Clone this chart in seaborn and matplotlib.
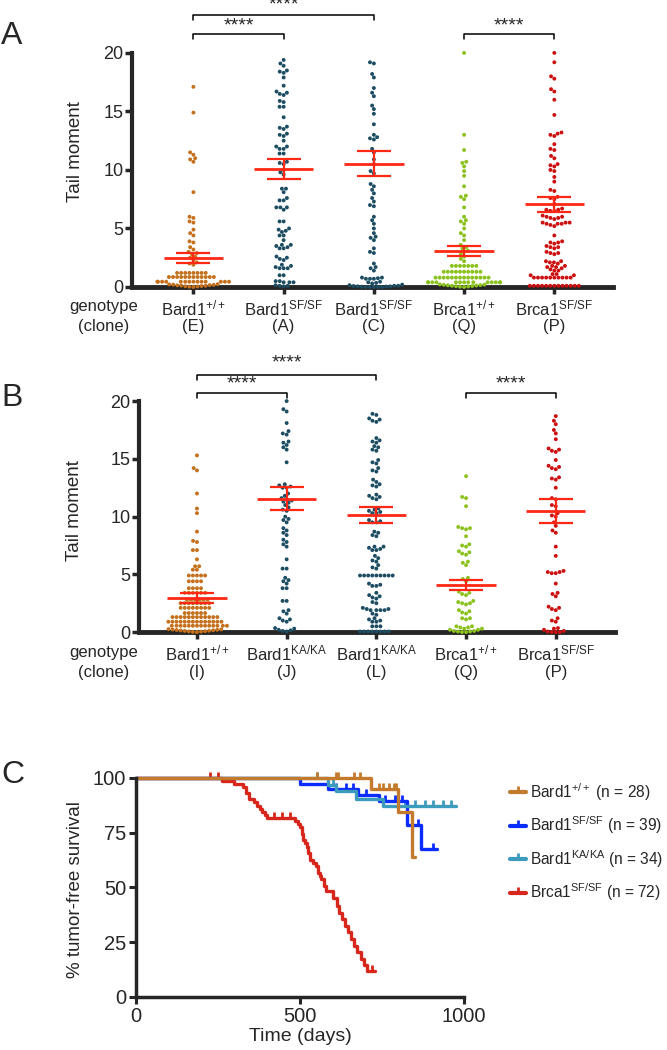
import numpy as np
import pandas as pd
import matplotlib
matplotlib.use("Agg")
import matplotlib.pyplot as plt
from matplotlib.lines import Line2D
import seaborn as sns

# ---------------- panel A data (tail moment per clone) ----------------
clones_a = ["E", "A", "C", "Q", "P"]
genotypes_a = ["Bard1$^{+/+}$", "Bard1$^{SF/SF}$", "Bard1$^{SF/SF}$", "Brca1$^{+/+}$", "Brca1$^{SF/SF}$"]
tail_a_E = [17.1, 14.9, 11.5, 11.3, 11.0, 10.9, 10.7, 8.1, 6.0, 5.9, 5.6, 5.5, 4.9, 4.6, 4.4, 3.9, 3.8,
            3.4, 3.2, 3.0, 2.9, 2.8, 2.6, 2.5, 2.3, 2.1, 2.0, 1.9,
            1.2, 1.2, 1.2, 1.2, 1.2, 1.2, 1.2, 1.2,
            0.85, 0.85, 0.85, 0.85, 0.85, 0.85, 0.85, 0.85, 0.85, 0.85, 0.85, 0.85,
            0.45, 0.45, 0.45, 0.45, 0.45, 0.45, 0.45, 0.45, 0.45, 0.45, 0.45, 0.45, 0.45, 0.45,
            0.24, 0.22, 0.2, 0.18, 0.16, 0.14, 0.12, 0.1, 0.08, 0.06, 0.04, 0.02, 0.0]
tail_a_A = [19.4, 19.1, 18.9, 18.5, 18.4, 18.3, 17.9, 17.2, 16.7, 16.6, 16.5, 16.4, 15.9, 15.8, 15.4, 15.4,
            14.5, 13.7, 13.6, 13.5, 13.1, 13.0, 12.9, 12.5, 12.0, 12.0, 11.8, 11.8, 11.4, 11.4, 10.7, 10.6,
            10.5, 10.0, 9.8, 9.6, 8.4, 8.4, 8.1, 7.6, 7.4, 7.4, 6.8, 6.8, 6.8, 6.6, 5.6, 5.6, 5.0, 4.9,
            4.8, 4.7, 4.4, 4.4, 4.0, 3.6, 3.6, 3.5, 3.4, 3.3, 3.3, 2.6, 2.5, 2.4, 2.3, 1.9, 1.8, 1.7,
            1.6, 1.6, 1.6, 1.0, 1.0, 0.5, 0.5, 0.4, 0.4, 0.4, 0.15, 0.1, 0.1, 0.05]
tail_a_C = [19.2, 19.1, 18.2, 17.9, 17.0, 16.6, 16.3, 15.5, 15.2, 14.8, 13.9, 13.0, 12.8, 12.7, 12.6,
            11.8, 11.5, 10.9, 10.5, 9.9, 9.7, 8.8, 8.6, 8.3, 8.0, 7.6, 7.3, 7.0, 6.9, 6.0, 5.7, 5.4,
            5.0, 4.6, 4.3, 4.2, 4.0, 3.3, 3.0, 2.9, 2.0, 1.7, 1.6, 1.4, 0.8, 0.8, 0.75, 0.7, 0.7, 0.7,
            0.45, 0.4, 0.35, 0.3, 0.2, 0.15, 0.1, 0.1, 0.08, 0.05, 0.05, 0.03, 0.02, 0.0, 0.0, 0.0, 0.0, 0.0]
tail_a_Q = [20.0, 13.0, 11.7, 10.7, 10.6, 10.3, 9.9, 9.5, 8.6, 7.8, 7.7, 7.5, 6.8, 6.0, 5.7, 5.6, 5.4,
            5.0, 4.6, 4.4, 4.0, 3.6, 3.4, 3.3, 3.1, 3.0, 2.8, 2.6, 2.4, 2.2,
            1.8, 1.8, 1.8, 1.8, 1.8, 1.8, 1.8,
            1.3, 1.3, 1.3, 1.3, 1.3, 1.3, 1.3, 1.3, 1.3, 1.3,
            0.8, 0.8, 0.8, 0.8, 0.8, 0.8, 0.8, 0.8, 0.8, 0.8, 0.8, 0.8, 0.8, 0.8,
            0.4, 0.4, 0.4, 0.4, 0.4, 0.4, 0.4, 0.4, 0.4, 0.4, 0.4, 0.4, 0.4, 0.4,
            0.22, 0.2, 0.18, 0.16, 0.14, 0.12, 0.1, 0.08, 0.06, 0.04, 0.02, 0.0]
tail_a_P = [20.0, 19.2, 18.0, 17.8, 16.9, 16.7, 16.0, 14.7, 13.2, 13.1, 13.0, 12.9, 12.2, 11.8, 11.7,
            11.2, 11.0, 10.5, 10.4, 10.3, 10.0, 9.9, 9.4, 9.0, 8.3, 8.2, 7.7, 7.6, 7.5, 7.1, 6.7, 6.6,
            6.6, 6.5, 6.5, 6.1, 6.0, 6.0, 5.9, 5.9, 5.8, 5.5, 5.5, 5.5, 5.4, 5.4, 5.4, 5.3, 5.2, 4.4,
            3.9, 3.8, 3.8, 3.7, 3.5, 3.4, 3.4, 3.3, 3.0, 2.9, 2.9, 2.8, 2.2, 2.2, 2.1, 2.1, 2.0, 1.8,
            1.8, 1.7, 1.7, 1.6, 1.5, 1.4, 1.4, 1.1, 1.1, 1.0, 1.0,
            0.8, 0.8, 0.8, 0.8, 0.8, 0.8, 0.8, 0.8, 0.8, 0.8,
            0.1, 0.1, 0.1, 0.1, 0.1, 0.1, 0.1, 0.1, 0.1, 0.1, 0.1, 0.1, 0.1]
mean_a = [2.45, 10.05, 10.55, 3.1, 7.05]
sem_a = [0.43, 0.85, 1.05, 0.43, 0.65]

# ---------------- panel B data ----------------
clones_b = ["I", "J", "L", "Q", "P"]
genotypes_b = ["Bard1$^{+/+}$", "Bard1$^{KA/KA}$", "Bard1$^{KA/KA}$", "Brca1$^{+/+}$", "Brca1$^{SF/SF}$"]
tail_b_I = [15.3, 14.2, 14.0, 12.0, 10.7, 10.3, 8.7, 7.9, 7.8, 7.1, 7.1, 6.3, 5.7, 5.7, 5.4, 5.4,
            4.9, 4.9, 4.9, 4.9, 4.9, 4.4, 4.4, 4.4, 4.4, 3.8, 3.8, 3.8, 3.8,
            3.4, 3.4, 3.4, 3.4, 3.4, 3.4, 2.8, 2.8, 2.8, 2.8, 2.8, 2.8,
            2.5, 2.5, 2.5, 2.5, 2.5, 2.5, 2.5, 2.5, 2.1, 2.1, 2.1, 2.1, 2.1, 2.1, 2.1, 2.1,
            1.65, 1.65, 1.65, 1.65, 1.65, 1.65,
            1.3, 1.3, 1.3, 1.3, 1.3, 1.3, 1.3, 1.3, 1.3, 1.3, 1.3, 1.3,
            0.9, 0.9, 0.9, 0.9, 0.9, 0.9, 0.9, 0.9, 0.9, 0.9, 0.9, 0.9, 0.9, 0.9,
            0.55, 0.55, 0.55, 0.55, 0.55, 0.55, 0.55, 0.55, 0.55, 0.55, 0.55, 0.55, 0.55, 0.55,
            0.26, 0.24, 0.22, 0.2, 0.18, 0.16, 0.14, 0.12, 0.1, 0.08, 0.06, 0.04, 0.02, 0.0]
tail_b_J = [20.0, 19.3, 19.1, 18.1, 17.4, 17.2, 17.1, 16.5, 16.4, 16.2, 16.0, 15.8, 14.7, 12.8, 12.7,
            12.6, 12.5, 12.5, 12.0, 11.8, 11.6, 11.5, 11.4, 11.3, 11.2, 11.0, 10.8, 10.6, 10.5, 10.0,
            9.8, 9.7, 9.5, 9.0, 8.8, 8.6, 8.4, 8.0, 7.8, 7.6, 7.4, 6.3, 5.5, 5.5, 4.7, 4.5, 4.4, 4.2,
            3.8, 3.8, 2.7, 2.7, 1.9, 1.8, 1.6, 1.2, 1.1, 1.0, 0.9, 0.35, 0.3, 0.2, 0.15, 0.1, 0.05]
tail_b_L = [18.9, 18.8, 18.5, 18.4, 18.3, 18.2, 16.8, 16.6, 16.5, 16.4, 16.1, 16.0, 15.8, 15.7, 14.9,
            14.7, 14.6, 14.2, 14.0, 13.9, 13.2, 13.0, 12.8, 12.7, 12.6, 11.9, 11.8, 11.7, 11.6, 11.5,
            10.7, 10.6, 10.5, 10.4, 10.3, 10.3, 9.7, 9.6, 9.5, 9.5, 8.7, 8.6, 8.4, 8.3, 7.4, 7.4, 7.3,
            7.2, 7.1, 7.1, 6.6, 6.4, 6.2, 6.1, 5.8, 5.6, 5.5,
            4.9, 4.9, 4.9, 4.9, 4.9, 4.9, 4.9, 4.9, 4.9,
            4.2, 4.1, 4.0, 4.0, 3.4, 3.2, 3.1, 3.0, 2.9, 2.6, 2.5, 2.1, 2.0, 2.0, 1.9, 1.9, 1.9, 1.9,
            1.6, 1.5, 1.2, 1.1, 1.0, 0.9, 0.9, 0.5, 0.5, 0.5,
            0.05, 0.05, 0.05, 0.05, 0.05, 0.05, 0.05, 0.05]
tail_b_Q = [13.5, 11.7, 11.6, 10.9, 9.1, 9.0, 9.0, 8.9, 8.3, 7.6, 7.5, 7.4, 7.0, 6.9, 6.8, 6.7, 6.1,
            6.0, 5.8, 4.7, 4.6, 4.4, 3.5, 3.4, 3.3, 3.2, 2.7, 2.6, 2.5, 2.5, 2.4, 1.9, 1.8, 1.7, 1.6,
            1.2, 1.2, 1.1, 0.5, 0.5, 0.4, 0.4, 0.3, 0.3, 0.2, 0.2, 0.1, 0.1, 0.05, 0.05, 0.0, 0.0]
tail_b_P = [18.7, 18.3, 18.0, 17.5, 17.2, 16.7, 15.9, 15.8, 15.7, 15.6, 14.9, 14.4, 14.3, 14.2, 14.1,
            13.4, 13.3, 13.2, 12.5, 11.6, 11.5, 11.0, 10.9, 10.3, 10.1, 10.0, 9.5, 9.2, 8.8, 8.6, 7.4,
            6.6, 5.3, 5.2, 5.2, 5.1, 5.1, 4.2, 3.4, 3.3, 3.1, 2.2, 2.1, 2.0, 1.9, 1.2, 1.0, 0.9, 0.35,
            0.3, 0.2, 0.1, 0.05, 0.0, 0.0, 0.0]
mean_b = [2.95, 11.55, 10.12, 4.1, 10.5]
sem_b = [0.43, 1.0, 0.68, 0.45, 1.05]

# ---------------- panel C data (Kaplan-Meier, tumor-free survival) ----------------
km_labels = ["Bard1$^{+/+}$ (n = 28)", "Bard1$^{SF/SF}$ (n = 39)",
             "Bard1$^{KA/KA}$ (n = 34)", "Brca1$^{SF/SF}$ (n = 72)"]
km_bard_wt_t = [0, 715, 799, 842, 851]
km_bard_wt_s = [100, 95, 84.5, 64, 64]
km_bard_sf_t = [0, 501, 585, 676, 741, 825, 870, 916]
km_bard_sf_s = [100, 97.4, 94.8, 92.2, 89.6, 78.4, 67.7, 67.7]
km_bard_ka_t = [0, 585, 611, 670, 754, 974]
km_bard_ka_s = [100, 97, 94, 90.5, 87, 87]
km_brca_sf_t = [0, 262, 300, 325, 335, 345, 358, 370, 378, 385, 392, 400, 485, 495, 500, 505, 510,
                515, 520, 525, 530, 540, 548, 555, 560, 565, 572, 580, 600, 612, 620, 628, 636, 645,
                655, 665, 675, 685, 695, 705, 728]
km_brca_sf_s = [100, 98.6, 97.2, 95.8, 93, 90.2, 88.8, 87.4, 86, 84.6, 83.2, 81.8, 80.4, 78.9, 77.4,
                74.5, 71.6, 70.1, 68.6, 65.7, 62.7, 61.2, 59.7, 56.7, 55.2, 53.7, 50.7, 48.5, 45,
                41.5, 38.5, 35.5, 32.5, 29.5, 26.5, 23.5, 20.5, 17.5, 14.5, 12, 12]
cens_bard_wt_t = [553, 611, 617, 663, 683, 740, 754, 770, 785, 793]
cens_bard_wt_s = [100, 100, 100, 100, 100, 95, 95, 95, 95, 95]
cens_bard_sf_t = [610, 640, 660, 700, 760, 790, 810, 860, 905]
cens_bard_sf_s = [94.8, 94.8, 94.8, 92.2, 89.6, 89.6, 89.6, 78.4, 67.7]
cens_bard_ka_t = [553, 600, 819, 850, 880, 905, 935, 960]
cens_bard_ka_s = [100, 97, 87, 87, 87, 87, 87, 87]
cens_brca_sf_t = [225, 250, 420, 445, 470, 720]
cens_brca_sf_s = [100, 100, 81.8, 81.8, 81.8, 12]

col_wt = "#c4701c"
col_mut = "#1d4d62"
col_green = "#8cc21e"
col_red = "#cc1010"
col_mean = "#ff2814"
km_colors = ["#c47a2c", "#0b2cff", "#3b9bbd", "#d7261b"]

sns.set_style("ticks")
plt.rcParams["font.family"] = ["Liberation Sans", "DejaVu Sans"]
plt.rcParams["mathtext.fontset"] = "custom"
plt.rcParams["mathtext.rm"] = "Liberation Sans"
plt.rcParams["mathtext.it"] = "Liberation Sans"
plt.rcParams["mathtext.default"] = "regular"

fig = plt.figure(figsize=(6.67, 10.5), dpi=100)


def swarm_panel(ax, clones, values, colors, means, sems, genos, letters_y):
    df = pd.concat([pd.DataFrame({"clone": c, "tail": v}) for c, v in zip(clones, values)])
    sns.swarmplot(data=df, x="clone", y="tail", hue="clone", order=clones, palette=colors,
                  size=2.8, legend=False, ax=ax, warn_thresh=1.0, zorder=3)
    for coll in ax.collections:
        coll.set_clip_on(False)
    pos = np.arange(len(clones))
    ax.hlines(means, pos - 0.33, pos + 0.33, color=col_mean, lw=2, zorder=5)
    ax.errorbar(pos, means, yerr=sems, fmt="none", ecolor=col_mean, elinewidth=1.6,
                capsize=12, capthick=1.6, zorder=5)
    ax.set_ylim(0, 20)
    ax.set_yticks([0, 5, 10, 15, 20])
    ax.set_ylabel("Tail moment", fontsize=13.5)
    ax.set_xlabel("")
    ax.set_xticks(pos)
    ax.set_xticklabels(genos, fontsize=12)
    for i, c in enumerate(clones):
        ax.text(i, letters_y, "(%s)" % c, transform=ax.get_xaxis_transform(),
                ha="center", va="center", fontsize=12)
    sns.despine(ax=ax)
    ax.spines["left"].set_linewidth(3)
    ax.spines["bottom"].set_linewidth(3.5)
    ax.tick_params(axis="y", length=5, width=2.5, labelsize=13, pad=1)
    ax.tick_params(axis="x", length=5, width=2.5, pad=3)


def bracket(ax, x0, x1, y, leg, star_y):
    ax.plot([x0, x0, x1, x1], [y - leg, y, y, y - leg], color="black", lw=1.1, clip_on=False)
    ax.text((x0 + x1) / 2, star_y, "****", ha="center", va="center", fontsize=14)


# ---- panel A ----
axa = fig.add_axes([0.198, 0.7267, 0.721, 0.2229])
swarm_panel(axa, clones_a, [tail_a_E, tail_a_A, tail_a_C, tail_a_Q, tail_a_P],
            [col_wt, col_mut, col_mut, col_green, col_red], mean_a, sem_a, genotypes_a, -0.171)
axa.set_xlim(-0.68, 4.65)
axa.yaxis.set_label_coords(-0.10, 0.577)
bracket(axa, 0, 2, 23.25, 0.45, 24.1)
bracket(axa, 0, 1, 21.6, 0.45, 22.3)
bracket(axa, 3, 4, 21.6, 0.45, 22.3)
axa.text(-0.06, -0.085, "genotype", transform=axa.transAxes, ha="center", va="center", fontsize=12)
axa.text(-0.06, -0.171, "(clone)", transform=axa.transAxes, ha="center", va="center", fontsize=12)

# ---- panel B ----
axb = fig.add_axes([0.2084, 0.398, 0.7136, 0.22])
swarm_panel(axb, clones_b, [tail_b_I, tail_b_J, tail_b_L, tail_b_Q, tail_b_P],
            [col_wt, col_mut, col_mut, col_green, col_red], mean_b, sem_b, genotypes_b, -0.173)
axb.set_xlim(-0.646, 4.66)
axb.yaxis.set_label_coords(-0.118, 0.524)
bracket(axb, 0, 2, 22.25, 0.45, 23.3)
bracket(axb, 0, 1, 20.7, 0.45, 21.5)
bracket(axb, 3, 4, 20.7, 0.45, 21.5)
axb.text(-0.074, -0.087, "genotype", transform=axb.transAxes, ha="center", va="center", fontsize=12)
axb.text(-0.074, -0.173, "(clone)", transform=axb.transAxes, ha="center", va="center", fontsize=12)

# ---- panel C ----
axc = fig.add_axes([0.204, 0.0505, 0.4918, 0.2086])
curves = [(km_bard_sf_t, km_bard_sf_s, cens_bard_sf_t, cens_bard_sf_s, km_colors[1]),
          (km_bard_ka_t, km_bard_ka_s, cens_bard_ka_t, cens_bard_ka_s, km_colors[2]),
          (km_brca_sf_t, km_brca_sf_s, cens_brca_sf_t, cens_brca_sf_s, km_colors[3]),
          (km_bard_wt_t, km_bard_wt_s, cens_bard_wt_t, cens_bard_wt_s, km_colors[0])]
for t, s, ct, cs, c in curves:
    sns.lineplot(x=t, y=s, drawstyle="steps-post", color=c, lw=2.4, estimator=None,
                 errorbar=None, ax=axc, clip_on=False)
    sns.scatterplot(x=ct, y=cs, marker=2, s=18, color=c, linewidth=2, ax=axc, clip_on=False)
axc.set_xlim(0, 1000)
axc.set_ylim(0, 100)
axc.set_xticks([0, 500, 1000])
axc.set_yticks([0, 25, 50, 75, 100])
axc.set_xlabel("Time (days)", fontsize=14, labelpad=2)
axc.set_ylabel("% tumor-free survival", fontsize=13.5)
axc.yaxis.set_label_coords(-0.16, 0.49)
sns.despine(ax=axc)
for sp in ["left", "bottom"]:
    axc.spines[sp].set_linewidth(2.5)
axc.tick_params(length=5, width=2.2, labelsize=14.5, pad=2)
handles = [Line2D([0], [0], color=c, lw=3, marker=2, markersize=4, markeredgewidth=2)
           for c in km_colors]
axc.legend(handles, km_labels, loc="upper left", bbox_to_anchor=(1.14, 0.985), frameon=False,
           fontsize=11.2, handlelength=1.0, handletextpad=0.3, labelspacing=0.75, borderpad=0,
           borderaxespad=0)

fig.text(0.018, 0.9657, "A", fontsize=23, ha="center", va="center")
fig.text(0.018, 0.621, "B", fontsize=23, ha="center", va="center")
fig.text(0.019, 0.262, "C", fontsize=23, ha="center", va="center")

fig.savefig("out.png", dpi=100)
